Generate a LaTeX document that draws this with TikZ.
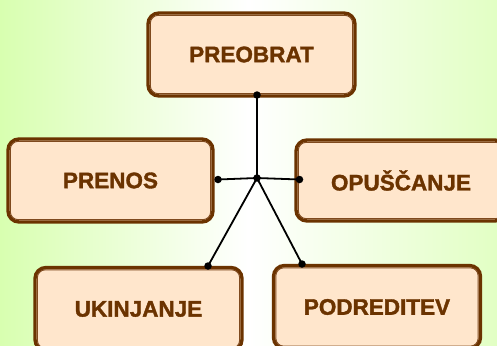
\documentclass[tikz,border=0pt]{standalone}
\usepackage{fontspec}
\newfontfamily\boxfont{Liberation Sans Bold}[FakeBold=1.5]
\definecolor{bgleft}{HTML}{D8FFB0}
\definecolor{bgright}{HTML}{E2FFC4}
\definecolor{boxfill}{HTML}{FFE6CC}
\definecolor{brownout}{HTML}{6B3300}
\definecolor{browntxt}{HTML}{6B3300}
\definecolor{browninner}{HTML}{7F4A1E}
\tikzset{
  termbox/.style={draw=brownout, line width=3.4pt, fill=boxfill, rounded corners=11pt,
    minimum width=#1, minimum height=83pt, inner sep=0pt,
    font=\boxfont\fontsize{22.5}{26}\selectfont, text=browntxt},
  innerline/.style={draw=browninner, line width=1pt, rounded corners=8pt},
  dotnode/.style={circle, fill=black, inner sep=0pt, minimum size=7.5pt},
  link/.style={draw=black, line width=1.8pt}
}
\newcommand{\innerframe}[1]{%
  \draw[innerline] ([xshift=4pt,yshift=-4pt]#1.north west) rectangle ([xshift=-4pt,yshift=4pt]#1.south east);}
\begin{document}
\begin{tikzpicture}[x=1pt,y=-1pt]
\useasboundingbox (0,0) rectangle (497,345);
\clip (0,0) rectangle (497,345);
\shade[left color=bgleft, right color=bgright, middle color=white] (0,0) rectangle (497,345);
% boxes
\node[termbox=207pt] (pre) at (251.5,54.5) {PREOBRAT};
\innerframe{pre}
\node[termbox=205pt] (pren) at (110.5,180.5) {PRENOS};
\innerframe{pren}
\node[termbox=210pt, minimum height=81pt] (opu) at (401,180.5) {OPUŠČANJE};
\innerframe{opu}
\node[termbox=207pt] (uki) at (138.5,309) {UKINJANJE};
\innerframe{uki}
\node[termbox=207pt] (pod) at (377,307) {PODREDITEV};
\innerframe{pod}
% connectors
\node[dotnode] (hub) at (257,178) {};
\node[dotnode] (dpre) at (257,95) {};
\node[dotnode] (dpren) at (218,179.5) {};
\node[dotnode] (dopu) at (299.5,179.5) {};
\node[dotnode] (duki) at (208,266) {};
\node[dotnode] (dpod) at (302,264) {};
\draw[link] (dpre.center) -- (hub.center);
\draw[link] (dpren.center) -- (hub.center);
\draw[link] (hub.center) -- (dopu.center);
\draw[link] (hub.center) -- (duki.center);
\draw[link] (hub.center) -- (dpod.center);
\end{tikzpicture}
\end{document}
